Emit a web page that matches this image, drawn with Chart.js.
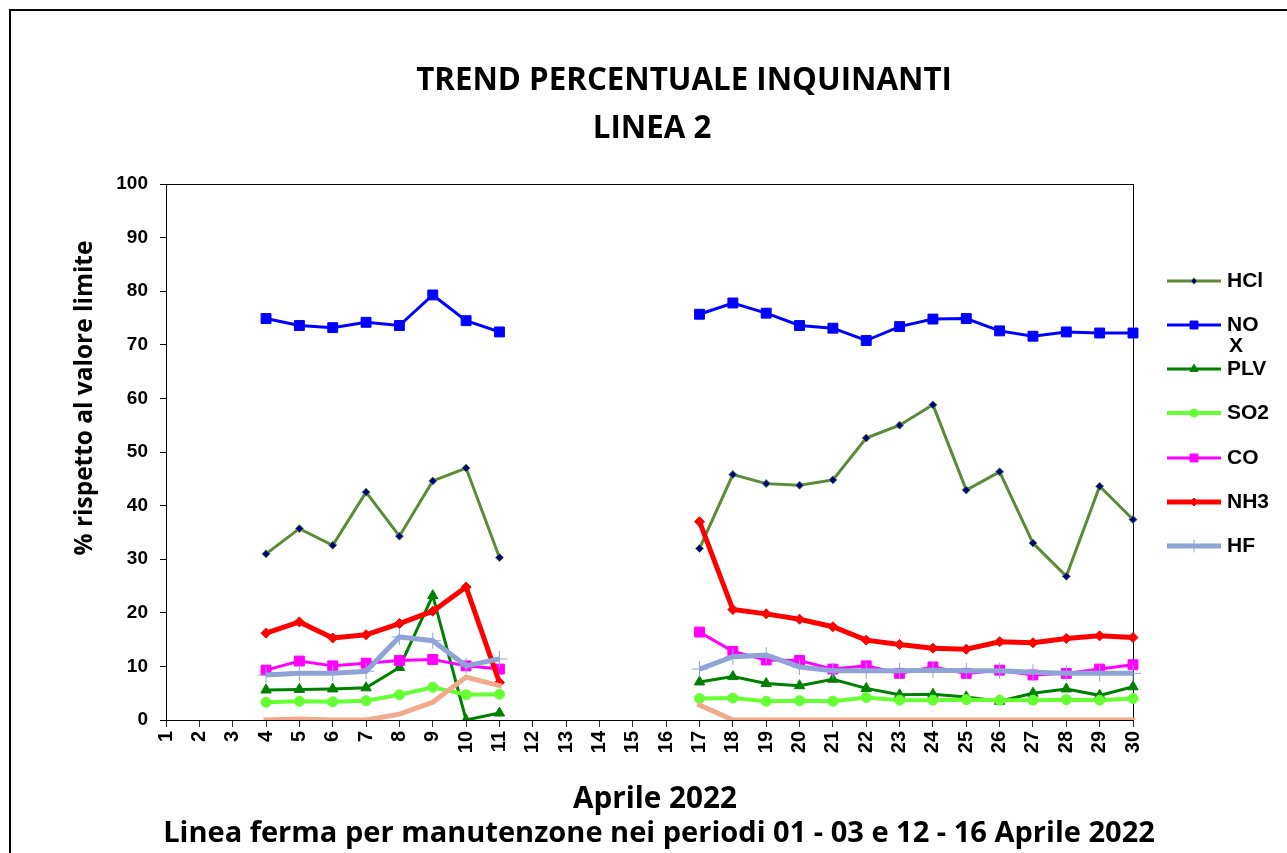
<!DOCTYPE html>
<html>
<head>
<meta charset="utf-8">
<script src="https://cdn.jsdelivr.net/npm/chart.js@4.4.1/dist/chart.umd.min.js"></script>
<style>
  html, body { margin: 0; padding: 0; background: #fff; }
  canvas { display: block; }
</style>
</head>
<body>
<canvas id="chart" width="1287" height="853"></canvas>
<script>
// Days of April 2022
const days = ['1','2','3','4','5','6','7','8','9','10','11','12','13','14','15',
              '16','17','18','19','20','21','22','23','24','25','26','27','28','29','30'];

// % of limit value per pollutant (null = line stopped)
const hcl  = [null,null,null,31.0,35.7,32.6,42.5,34.3,44.6,47.0,30.3,null,null,null,null,null,32.0,45.8,44.1,43.8,44.8,52.6,55.0,58.8,42.9,46.3,33.0,26.8,43.6,37.4];
const nox  = [null,null,null,74.9,73.6,73.2,74.2,73.6,79.3,74.5,72.4,null,null,null,null,null,75.7,77.8,75.9,73.6,73.1,70.8,73.4,74.8,74.9,72.6,71.6,72.4,72.2,72.2];
const plv  = [null,null,null,5.6,5.7,5.8,6.0,9.8,23.2,0.0,1.3,null,null,null,null,null,7.1,8.1,6.8,6.4,7.6,5.9,4.7,4.8,4.3,3.5,5.0,5.8,4.6,6.2];
const so2  = [null,null,null,3.3,3.5,3.4,3.6,4.7,6.1,4.7,4.8,null,null,null,null,null,4.0,4.1,3.5,3.6,3.5,4.2,3.7,3.7,3.8,3.7,3.7,3.8,3.7,4.0];
const co   = [null,null,null,9.3,11.0,10.1,10.6,11.1,11.3,10.1,9.5,null,null,null,null,null,16.4,12.8,11.2,11.1,9.5,10.1,8.7,9.9,8.7,9.3,8.4,8.7,9.5,10.3];
const nh3  = [null,null,null,16.2,18.3,15.3,15.9,18.0,20.3,24.8,7.0,null,null,null,null,null,37.0,20.6,19.8,18.8,17.4,14.9,14.1,13.4,13.2,14.6,14.4,15.2,15.7,15.4];
const hf   = [null,null,null,8.4,8.7,8.7,9.1,15.5,14.8,10.1,11.4,null,null,null,null,null,9.5,11.8,12.1,9.9,9.2,9.2,9.2,9.3,9.2,9.2,8.9,8.7,8.7,8.7];
const extra = [null,null,null,0.0,0.2,0.0,0.0,1.1,3.3,8.0,6.4,null,null,null,null,null,2.8,0,0,0,0,0,0,0,0,0,0,0,0,0];

const yTicks = [0,10,20,30,40,50,60,70,80,90,100];

const TICK_FAMILY = '"Liberation Sans", Arial, sans-serif';
const TITLE_FAMILY = '"Open Sans", "DejaVu Sans", sans-serif';

function series(label, data, color, width, style, radius, extraOpts) {
  return Object.assign({
    label: label,
    data: data,
    borderColor: color,
    backgroundColor: color,
    borderWidth: width,
    pointStyle: style,
    pointRadius: radius,
    pointBorderWidth: 1,
    pointBorderColor: color,
    pointBackgroundColor: color,
    spanGaps: false,
    tension: 0,
    fill: false
  }, extraOpts || {});
}

const datasets = [
  series('HCl', hcl, '#5a8a3a', 3, 'rectRot', 4, { pointBackgroundColor: '#000080', pointBorderColor: '#5a8a3a' }),
  series('NOX', nox, '#0000ff', 3, 'rect', 7),
  series('PLV', plv, '#008000', 3, 'triangle', 6),
  series('SO2', so2, '#66ff33', 4, 'circle', 5),
  series('CO', co, '#ff00ff', 3, 'rect', 7),
  series('NH3', nh3, '#ff0000', 5, 'rectRot', 5),
  series('HF', hf, '#8fa3d6', 5, 'cross', 8),
  series('', extra, '#f2a98c', 5, 'circle', 0, { borderCapStyle: 'square' })
];
// excel-like stacking: later series on top
datasets.forEach((d, i) => { d.order = datasets.length - i; });

// custom drawing: frame, plot box, titles, legend
function fitSize(ctx, text, width, family) {
  ctx.font = 'bold 100px ' + family;
  return 100 * width / ctx.measureText(text).width;
}

const decor = {
  id: 'decor',
  beforeDraw(chart) {
    const ctx = chart.ctx;
    ctx.save();
    ctx.fillStyle = '#fff';
    ctx.fillRect(0, 0, chart.width, chart.height);
    ctx.strokeStyle = '#000';
    ctx.lineWidth = 2;
    ctx.beginPath();
    ctx.moveTo(10, chart.height);
    ctx.lineTo(10, 10);
    ctx.lineTo(chart.width, 10);
    ctx.stroke();
    ctx.restore();
  },
  beforeDatasetsDraw(chart) {
    const { ctx, chartArea: a } = chart;
    ctx.save();
    ctx.strokeStyle = '#000';
    ctx.lineWidth = 1;
    ctx.strokeRect(Math.round(a.left) + 0.5, Math.round(a.top) + 0.5, Math.round(a.right - a.left), Math.round(a.bottom - a.top));
    ctx.restore();
  },
  afterDraw(chart) {
    const ctx = chart.ctx;
    ctx.save();
    ctx.fillStyle = '#000';
    ctx.textAlign = 'center';
    ctx.textBaseline = 'alphabetic';

    // titles
    const t1 = 'TREND PERCENTUALE INQUINANTI';
    const s1 = fitSize(ctx, t1, 536, TITLE_FAMILY);
    ctx.font = 'bold ' + s1 + 'px ' + TITLE_FAMILY;
    ctx.fillText(t1, 684, 90);
    ctx.fillText('LINEA 2', 652, 138);

    const b1 = 'Aprile 2022';
    const b2 = 'Linea ferma per manutenzone nei periodi 01 - 03 e 12 - 16 Aprile 2022';
    ctx.font = 'bold ' + fitSize(ctx, b1, 164, TITLE_FAMILY) + 'px ' + TITLE_FAMILY;
    ctx.fillText(b1, 655, 808);
    ctx.font = 'bold ' + fitSize(ctx, b2, 992, TITLE_FAMILY) + 'px ' + TITLE_FAMILY;
    ctx.fillText(b2, 659, 842);

    // y axis title
    const yt = '% rispetto al valore limite';
    ctx.font = 'bold ' + fitSize(ctx, yt, 315, TITLE_FAMILY) + 'px ' + TITLE_FAMILY;
    ctx.translate(85, 398);
    ctx.rotate(-Math.PI / 2);
    ctx.textBaseline = 'middle';
    ctx.fillText(yt, 0, 0);
    ctx.restore();

    // legend
    const rows = [281, 325, 369, 413, 458, 502, 546];
    ctx.save();
    ctx.font = 'bold 21px ' + TICK_FAMILY;
    ctx.textAlign = 'left';
    ctx.textBaseline = 'middle';
    chart.data.datasets.slice(0, 7).forEach((ds, i) => {
      const y = rows[i];
      ctx.strokeStyle = ds.borderColor;
      ctx.lineWidth = ds.borderWidth;
      ctx.beginPath();
      ctx.moveTo(1167, y);
      ctx.lineTo(1221, y);
      ctx.stroke();
      ctx.fillStyle = ds.pointBackgroundColor;
      ctx.strokeStyle = ds.pointBorderColor;
      ctx.lineWidth = 1;
      Chart.helpers.drawPoint(ctx, { pointStyle: ds.pointStyle, radius: ds.pointRadius * 0.8, rotation: 0, borderWidth: 1 }, 1194, y);
      ctx.fillStyle = '#000';
      if (ds.label === 'NOX') {
        ctx.fillText('NO', 1227, y);
        ctx.fillText('X', 1229, y + 21);
      } else {
        ctx.fillText(ds.label, 1227, y);
      }
    });
    ctx.restore();
  }
};

new Chart(document.getElementById('chart').getContext('2d'), {
  type: 'line',
  data: { labels: days, datasets: datasets },
  plugins: [decor],
  options: {
    responsive: false,
    animation: false,
    devicePixelRatio: 1,
    layout: { padding: { top: 184, right: 154, bottom: 0, left: 0 } },
    plugins: {
      legend: { display: false },
      title: { display: false },
      tooltip: { enabled: false }
    },
    scales: {
      x: {
        type: 'category',
        offset: false,
        border: { display: true, color: '#000', width: 1 },
        grid: { display: true, drawOnChartArea: false, drawTicks: true, tickLength: 7, tickColor: '#333' },
        ticks: { autoSkip: false, minRotation: 90, maxRotation: 90, color: '#000',
                 font: { family: TICK_FAMILY, weight: 'bold', size: 20 }, padding: 4 },
        afterFit(scale) { scale.height = 133; }
      },
      y: {
        min: 0,
        max: 100,
        border: { display: true, color: '#000', width: 1 },
        grid: { display: true, drawOnChartArea: false, drawTicks: true, tickLength: 6, tickColor: '#000' },
        ticks: { stepSize: 10, color: '#000', font: { family: TICK_FAMILY, weight: 'bold', size: 19 }, padding: 12,
                 callback: (v) => yTicks.includes(v) ? String(v) : '' },
        afterFit(scale) { scale.width = 166; }
      }
    }
  }
});
</script>
</body>
</html>
